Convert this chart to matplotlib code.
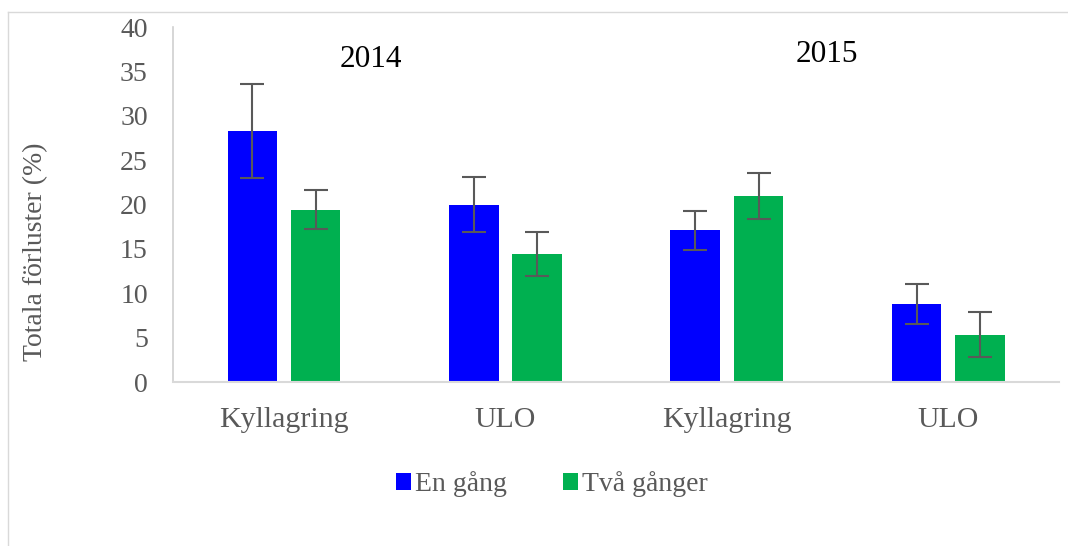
import numpy as np
import matplotlib.pyplot as plt
from matplotlib.lines import Line2D

plt.rcParams["font.family"] = ["Liberation Serif", "DejaVu Serif"]

categories = ["Kyllagring", "ULO", "Kyllagring", "ULO"]
years = ["2014", "2015"]
series_names = ["En gång", "Två gånger"]
en_gang = [28.3, 20.0, 17.1, 8.8]
en_gang_err = [5.3, 3.1, 2.2, 2.3]
tva_ganger = [19.4, 14.4, 21.0, 5.35]
tva_ganger_err = [2.2, 2.5, 2.6, 2.5]

blue = "#0000FF"
green = "#00B050"
grey = "#595959"

fig = plt.figure(figsize=(10.68, 5.46), dpi=100)
ax = fig.add_axes([173.3 / 1068, 1 - 382 / 546, (1059 - 173.3) / 1068, (382 - 27.3) / 546])

x = np.arange(len(categories))
w = 0.224
off = 0.143

err_kw = dict(ecolor=grey, elinewidth=1.5, capsize=8.5, capthick=1.5)
ax.bar(x - off, en_gang, w, yerr=en_gang_err, color=blue, label=series_names[0],
       error_kw=err_kw)
ax.bar(x + off, tva_ganger, w, yerr=tva_ganger_err, color=green, label=series_names[1],
       error_kw=err_kw)

ax.set_xlim(-0.5, len(categories) - 0.5)
ax.set_ylim(0, 40)
ax.set_yticks(np.arange(0, 41, 5))
ax.set_xticks(x)
ax.set_xticklabels(categories)

ax.tick_params(axis="y", length=0, pad=18.4, labelsize=20, labelcolor=grey)
ax.tick_params(axis="x", length=0, pad=32.2, labelsize=21.5, labelcolor=grey)
for lbl in ax.get_xticklabels():
    lbl.set_va("baseline")

for s in ["top", "right"]:
    ax.spines[s].set_visible(False)
ax.spines["left"].set_color("#D0D0D0")
ax.spines["bottom"].set_color("#D9D9D9")
ax.spines["left"].set_linewidth(1.2)
ax.spines["bottom"].set_linewidth(1.5)

# year labels
ax.text(0.393, 35.5, years[0], fontsize=22.5, color="black", ha="center", va="baseline")
ax.text(2.45, 36.1, years[1], fontsize=22.5, color="black", ha="center", va="baseline")

fig.text(36 / 1068, 1 - 252 / 546, "Totala förluster (%)", rotation=90,
         ha="center", va="center", fontsize=20, color=grey)

fig.legend(loc="center", bbox_to_anchor=(552 / 1068, 1 - 484 / 546), ncol=2,
           frameon=False, fontsize=20, labelcolor=grey, handlelength=0.55,
           handleheight=0.55, handletextpad=0.15, columnspacing=2.0)

# chart border (only top and left are inside the picture)
bx, by = 8 / 1068, 1 - 11.7 / 546
fig.add_artist(Line2D([bx, 1.0], [by, by], transform=fig.transFigure,
                      color="#D9D9D9", linewidth=1))
fig.add_artist(Line2D([bx, bx], [0, by], transform=fig.transFigure,
                      color="#D9D9D9", linewidth=1))

fig.savefig("out.png", dpi=100, facecolor="white")
